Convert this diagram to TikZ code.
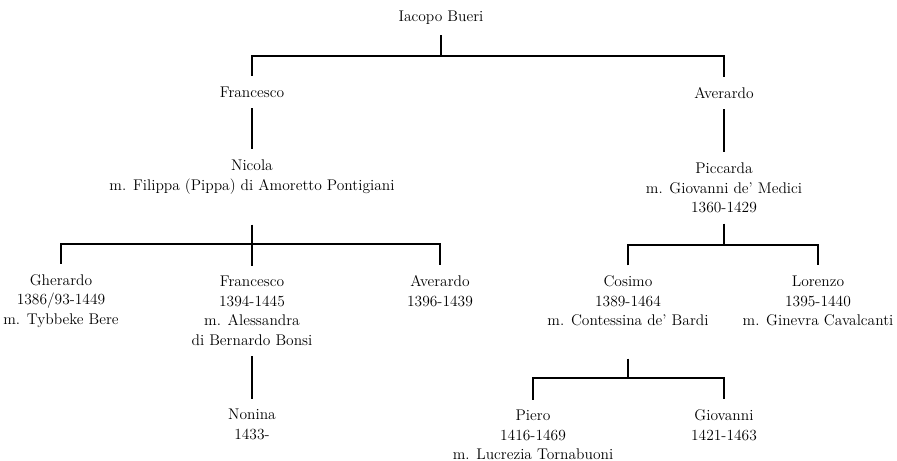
\documentclass[tikz,border=0pt]{standalone}
\usepackage{tikz}

\begin{document}
\begin{tikzpicture}[x=0.75pt,y=-0.75pt,
    person/.style={align=center, inner sep=0pt, outer sep=8pt,
        font=\fontsize{11.6}{14.6}\selectfont},
    line/.style={line width=0.8pt}]
    \useasboundingbox (0,0) rectangle (897,461);
    %%first_generations
    \node[person] (iacopo) at (441,18) {Iacopo Bueri};
    \node[person] (francesco) at (252,92) {Francesco};
    \node[person] (averardo) at (724,93) {Averardo};
    \node[person] (nicola) at (252,177) {Nicola\\m. Filippa (Pippa) di Amoretto Pontigiani};
    \node[person] (piccarda) at (724,188) {Piccarda\\m. Giovanni de' Medici\\1360-1429};
    %%children_of_nicola
    \node[person] (gherardo) at (61,301) {Gherardo\\1386/93-1449\\m. Tybbeke Bere};
    \node[person] (francescoB) at (252,311) {Francesco\\1394-1445\\m. Alessandra\\di Bernardo Bonsi};
    \node[person] (averardoB) at (440,291) {Averardo\\1396-1439};
    \node[person] (nonina) at (252,424.5) {Nonina\\1433-};
    %%children_of_piccarda
    \node[person] (cosimo) at (628,301) {Cosimo\\1389-1464\\m. Contessina de' Bardi};
    \node[person] (lorenzo) at (818,301) {Lorenzo\\1395-1440\\m. Ginevra Cavalcanti};
    \node[person] (piero) at (533,435) {Piero\\1416-1469\\m. Lucrezia Tornabuoni};
    \node[person] (giovanni) at (724,425) {Giovanni\\1421-1463};
    %%forks
    \coordinate (forkA) at (441,56);
    \coordinate (forkB) at (252,244);
    \coordinate (forkC) at (724,245);
    \coordinate (forkD) at (628,378);
    %%lines
    \draw[line] (iacopo) -- (forkA);
    \draw[line] (francesco) |- (forkA) -| (averardo);
    \draw[line] (francesco) -- (nicola);
    \draw[line] (averardo) -- (piccarda);
    \draw[line, shorten <=15pt] (nicola) -- (francescoB);
    \draw[line] (gherardo) |- (forkB) -| (averardoB);
    \draw[line] (francescoB) -- (nonina);
    \draw[line] (piccarda) -- (forkC);
    \draw[line] (cosimo) |- (forkC) -| (lorenzo);
    \draw[line, shorten <=16.5pt] (cosimo) -- (forkD);
    \draw[line] (piero) |- (forkD) -| (giovanni);
\end{tikzpicture}
\end{document}
